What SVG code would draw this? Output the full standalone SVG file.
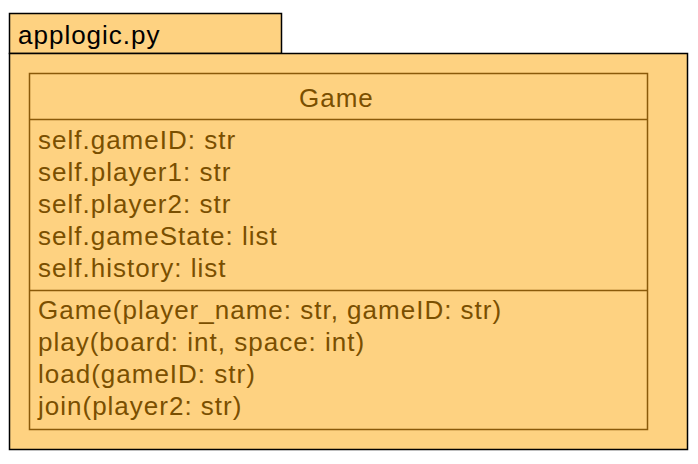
<svg xmlns="http://www.w3.org/2000/svg" width="698" height="464" viewBox="0 0 698 464">
<style>
.pkg{fill:#fed281;stroke:#000;stroke-width:1.5}
.cls{fill:#fed281;stroke:#8a5a0a;stroke-width:1.5}
.div{stroke:#8a5a0a;stroke-width:1.5}
.t{font-family:"Liberation Sans",Arial,sans-serif;font-size:26px;letter-spacing:1px;fill:#7a4f00}
.pt{font-family:"Liberation Sans",Arial,sans-serif;font-size:26px;letter-spacing:1px;fill:#000}
</style>
<g id="pkg-applogic">
<rect class="pkg" x="9.5" y="13.5" width="272" height="40"/>
<rect class="pkg" x="9.5" y="53.5" width="678" height="396"/>
<text class="pt" x="18" y="44">applogic.py</text>
</g>
<g id="class-Game">
<rect class="cls" x="29.5" y="73.5" width="618" height="356"/>
<line class="div" x1="29.5" y1="119.5" x2="647.5" y2="119.5"/>
<line class="div" x1="29.5" y1="290.5" x2="647.5" y2="290.5"/>
<text class="t" x="299" y="107">Game</text>
<text class="t" x="38" y="149">self.gameID: str</text>
<text class="t" x="38" y="181">self.player1: str</text>
<text class="t" x="38" y="213">self.player2: str</text>
<text class="t" x="38" y="245">self.gameState: list</text>
<text class="t" x="38" y="277">self.history: list</text>
<text class="t" x="38" y="319">Game(player_name: str, gameID: str)</text>
<text class="t" x="38" y="351">play(board: int, space: int)</text>
<text class="t" x="38" y="383">load(gameID: str)</text>
<text class="t" x="38" y="415">join(player2: str)</text>
</g>
<g id="connectors"/>
</svg>
